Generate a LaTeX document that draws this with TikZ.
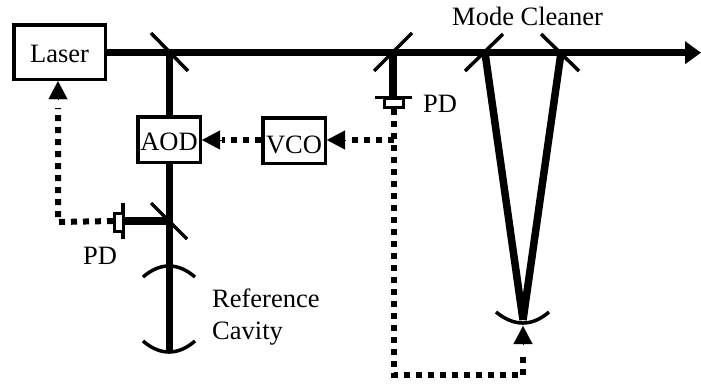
\documentclass[tikz,border=0pt]{standalone}
\usepackage{fontspec}
\setmainfont{Liberation Serif}
\usetikzlibrary{arrows.meta}
\tikzset{
  lab/.style={inner sep=0pt,font=\fontsize{26.5}{32}\selectfont,anchor=base west},
  boxnode/.style={draw,line width=3.5pt,inner sep=0pt,font=\fontsize{26.5}{32}\selectfont,fill=white,text depth=0pt},
  beam/.style={line width=7.5pt},
  mirror/.style={line width=3.5pt},
  signal/.style={line width=6pt,dash pattern=on 6pt off 6pt},
  tiphead/.style={line width=0.1pt,-{Triangle[length=18pt,width=19pt]}},
  outhead/.style={line width=7.5pt,-{Triangle[length=16pt,width=22pt,sep=0pt]}},
}
\begin{document}
\begin{tikzpicture}[x=1pt,y=-1pt]
\useasboundingbox (0,0) rectangle (701,383);
% coordinates
\coordinate (m1) at (169.5,52.7);
\coordinate (m3) at (393,52.7);
\coordinate (m4) at (485,52.7);
\coordinate (m5) at (561,52.7);
\coordinate (end) at (701,52.7);
\coordinate (m2) at (169.5,221);
\coordinate (cavb) at (169.5,352);
\coordinate (pdl) at (123,221);
\coordinate (pdr) at (393,98);
\coordinate (mcb) at (523,320);
% beams
\draw[beam] (m1) -- (cavb);
\draw[beam] (m2) -- (pdl);
\draw[beam] (m3) -- (pdr);
\draw[beam] (m4) -- (mcb);
\draw[beam] (m5) -- (mcb);
% boxes
\node[boxnode,minimum width=91.5pt,minimum height=54.5pt,text height=19.6pt] (laser) at (59.5,52.2) {Laser};
\node[boxnode,minimum width=62.5pt,minimum height=45.5pt,text height=21pt] (aod) at (169,139.5) {AOD};
\node[boxnode,minimum width=62.5pt,minimum height=45.5pt,text height=25pt] (vco) at (294,140.5) {VCO};
\draw[outhead] (laser.east |- m1) -- (end);
% mirrors
\draw[mirror] (151,33) -- (188,71);
\draw[mirror] (151,203) -- (187,239);
\draw[mirror] (374,71) -- (412,33);
\draw[mirror] (465,71) -- (503,34);
\draw[mirror] (541,34) -- (579,71);
% cavity mirrors
\draw[mirror] (143,277) .. controls (160,262.3) and (178,262.3) .. (195,277);
\draw[mirror] (143,341) .. controls (160,355.7) and (178,355.7) .. (195,341);
\draw[mirror] (496,312) .. controls (514,326.7) and (532,326.7) .. (549,312);
% photodiodes
\draw[mirror] (123,203) -- (123,239);
\draw[line width=3pt,fill=white] (123,213) rectangle (114,231);
\coordinate (pdlbox) at (113,221);
\draw[mirror] (375,97.7) -- (412,97.7);
\draw[line width=3pt,fill=white] (384,98) rectangle (403,107.5);
\coordinate (pdrbox) at (393.5,109);
% signal lines
\coordinate (lbase) at (58,99);
\coordinate (lcorner) at (58,222);
\draw[signal] (pdlbox) -- (lcorner) -- (lbase |- 0,108);
\draw[tiphead] (lbase) -- (laser.south -| lbase);
\coordinate (abase) at (222,140);
\draw[signal] (vco.west |- abase) -- (abase);
\draw[tiphead] (abase) -- (aod.east |- abase);
\coordinate (vbase) at (346,140);
\draw[signal] (pdrbox |- abase) -- (vbase);
\draw[tiphead] (vbase) -- (vco.east |- vbase);
\coordinate (mcorner) at (393.5,375);
\coordinate (mturn) at (523,375);
\draw[signal] (pdrbox) -- (mcorner) -- (mturn) -- (523,352);
\draw[tiphead] (523,345) -- (523,326);
% labels
\node[lab] (t1) at (452,25) {Mode Cleaner};
\node[lab] (t2) at (423,112) {PD};
\node[lab] (t3) at (83,264.5) {PD};
\node[lab] (t4) at (212,307.5) {Reference};
\node[lab] (t5) at (212,339) {Cavity};
\end{tikzpicture}
\end{document}
